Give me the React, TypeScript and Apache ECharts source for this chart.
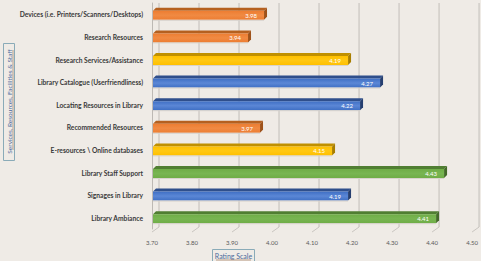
import React, { useEffect, useRef } from "react";
import * as echarts from "echarts";

const categories = [
  "Devices (i.e. Printers/Scanners/Desktops)",
  "Research Resources",
  "Research Services/Assistance",
  "Library Catalogue (Userfriendliness)",
  "Locating Resources in Library",
  "Recommended Resources",
  "E-resources \\ Online databases",
  "Library Staff Support",
  "Signages in Library",
  "Library Ambiance",
];
const values = [3.98, 3.94, 4.19, 4.27, 4.22, 3.97, 4.15, 4.43, 4.19, 4.41];
const colorGroups = ["orange", "orange", "yellow", "blue", "blue", "orange", "yellow", "green", "blue", "green"];
const xTicks = [3.7, 3.8, 3.9, 4.0, 4.1, 4.2, 4.3, 4.4, 4.5];

const palette: Record<string, { front: string; light: string; top: string; side: string }> = {
  orange: { front: "#ED7D31", light: "#F08A43", top: "#B5601F", side: "#9E521A" },
  yellow: { front: "#FFC000", light: "#FFC814", top: "#C09000", side: "#A87E00" },
  blue: { front: "#3F6FC4", light: "#5B87D6", top: "#2F4F8C", side: "#263F70" },
  green: { front: "#6FAD47", light: "#78B552", top: "#507E32", side: "#44692A" },
};

const FONT = "Lato, 'Open Sans', sans-serif";

export default function App() {
  const ref = useRef<HTMLDivElement>(null);
  useEffect(() => {
    if (!ref.current) return;
    const chart = echarts.init(ref.current, undefined, { renderer: "svg" });
    const barData = values.map((v, i) => [v, i]);
    const option: any = {
      animation: false,
      backgroundColor: "#EFEBE6",
      grid: { left: 152, right: 8, top: 3, bottom: 32, containLabel: false },
      xAxis: {
        type: "value",
        min: 3.7,
        max: 4.5,
        interval: 0.1,
        axisLine: { show: false },
        axisTick: { show: false },
        splitLine: { show: false },
        axisLabel: {
          formatter: (v: number) => v.toFixed(2),
          fontSize: 6,
          color: "#595959",
          fontFamily: FONT,
          margin: 10,
        },
      },
      yAxis: {
        type: "category",
        data: categories,
        inverse: true,
        axisLine: { show: true, lineStyle: { color: "#BDB9B4", width: 1 } },
        axisTick: { show: false },
        axisLabel: {
          fontSize: 6.7,
          fontWeight: "bold",
          color: "#3A3A3A",
          fontFamily: FONT,
          margin: 9,
        },
      },
      graphic: [
        {
          type: "rect",
          shape: { x: 3.5, y: 43.5, width: 11, height: 117 },
          style: { fill: "none", stroke: "#8AABB8", lineWidth: 1 },
        },
        {
          type: "text",
          x: 9,
          y: 101.5,
          rotation: Math.PI / 2,
          style: {
            text: "Services, Resources, Facilities & Staff",
            fontSize: 6.5,
            fontFamily: FONT,
            fill: "#4B6A9B",
            align: "center",
            verticalAlign: "middle",
          },
        },
        {
          type: "line",
          shape: { x1: 13, y1: 50, x2: 13, y2: 150 },
          style: { stroke: "#B08A70", lineWidth: 0.8 },
        },
        {
          type: "rect",
          shape: { x: 212.5, y: 249.5, width: 42, height: 14 },
          style: { fill: "none", stroke: "#8AABB8", lineWidth: 1 },
        },
        {
          type: "text",
          x: 233.5,
          y: 255.5,
          style: {
            text: "Rating Scale",
            fontSize: 7,
            fontFamily: FONT,
            fill: "#4B6A9B",
            align: "center",
            verticalAlign: "middle",
          },
        },
        {
          type: "line",
          shape: { x1: 216, y1: 260, x2: 251, y2: 260 },
          style: { stroke: "#B08A70", lineWidth: 0.8 },
        },
      ],
      series: [
        {
          type: "custom",
          data: xTicks.map((t) => [t, 0]),
          z: 1,
          silent: true,
          renderItem: (params: any, api: any) => {
            const cs = params.coordSys;
            const x = api.coord([api.value(0), 0])[0];
            const bottom = cs.y + cs.height;
            return {
              type: "group",
              children: [
                {
                  type: "line",
                  shape: { x1: x + 7, y1: cs.y, x2: x + 7, y2: bottom - 2 },
                  style: { stroke: "#C9C5C0", lineWidth: 1.2 },
                },
                {
                  type: "line",
                  shape: { x1: x, y1: bottom + 3, x2: x + 7, y2: bottom - 2 },
                  style: { stroke: "#C9C5C0", lineWidth: 1 },
                },
              ],
            };
          },
        },
        {
          type: "custom",
          data: barData,
          z: 3,
          encode: { x: 0, y: 1 },
          renderItem: (params: any, api: any) => {
            const idx = params.dataIndex;
            const v = api.value(0);
            const cat = api.value(1);
            const p0 = api.coord([3.7, cat]);
            const p1 = api.coord([v, cat]);
            const x0 = p0[0] + 1;
            const x1 = p1[0];
            const c = p1[1] + 1;
            const h = 9;
            const d = 3;
            const col = palette[colorGroups[idx]];
            const yt = c - h / 2;
            const yb = c + h / 2;
            return {
              type: "group",
              children: [
                {
                  type: "polygon",
                  shape: { points: [[x0, yt], [x0 + d, yt - d], [x1 + d, yt - d], [x1, yt]] },
                  style: { fill: col.top },
                },
                {
                  type: "polygon",
                  shape: { points: [[x1, yt], [x1 + d, yt - d], [x1 + d, yb - d], [x1, yb]] },
                  style: { fill: col.side },
                },
                {
                  type: "rect",
                  shape: { x: x0, y: yt, width: x1 - x0, height: h },
                  style: {
                    fill: new echarts.graphic.LinearGradient(0, 0, 0, 1, [
                      { offset: 0, color: col.front },
                      { offset: 0.5, color: col.light },
                      { offset: 1, color: col.front },
                    ]),
                  },
                },
                {
                  type: "line",
                  shape: { x1: x0, y1: yb + 0.5, x2: x1, y2: yb + 0.5 },
                  style: { stroke: "#D8D3CD", lineWidth: 1 },
                },
                {
                  type: "text",
                  x: x1 - 7,
                  y: c,
                  style: {
                    text: v.toFixed(2),
                    fontSize: 6,
                    fontFamily: FONT,
                    fill: "#FFFFFF",
                    align: "right",
                    verticalAlign: "middle",
                  },
                },
              ],
            };
          },
        },
      ],
    };
    chart.setOption(option);
    return () => chart.dispose();
  }, []);
  return <div ref={ref} style={{ width: 481, height: 261, position: "absolute", left: 0, top: 0 }} />;
}
